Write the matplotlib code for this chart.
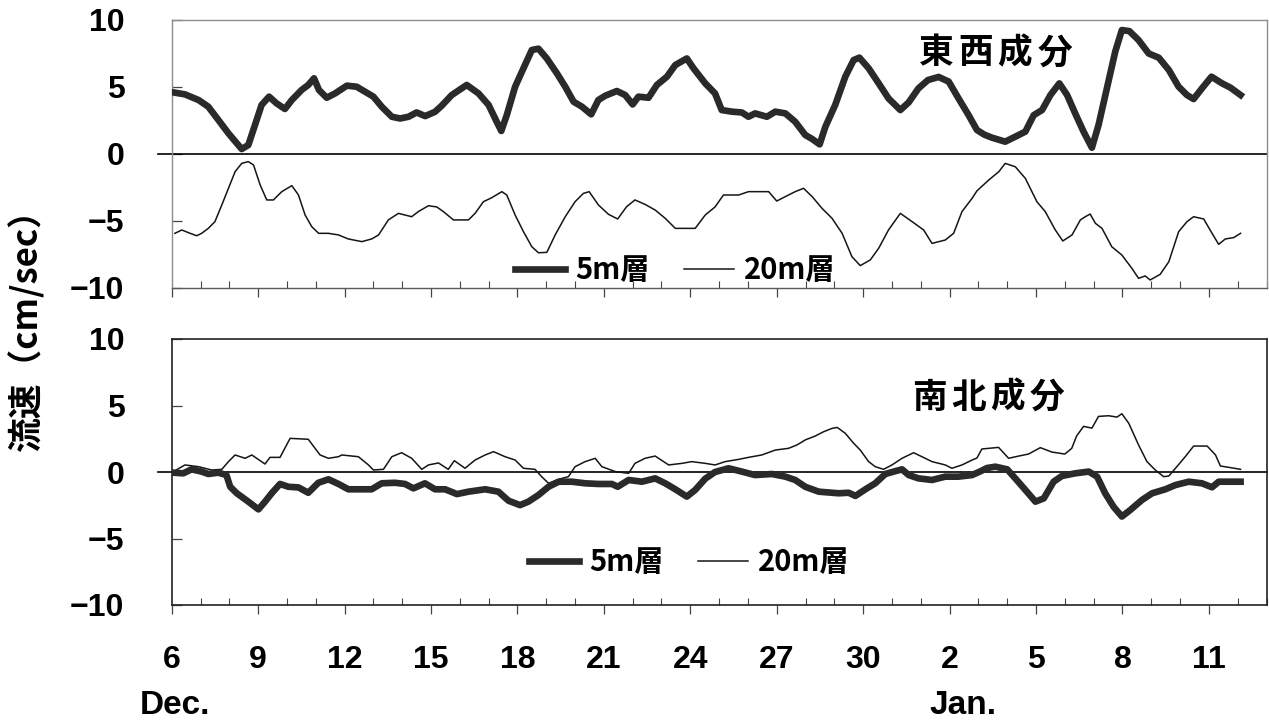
import matplotlib
matplotlib.use("Agg")
import matplotlib.pyplot as plt
from matplotlib.lines import Line2D
from matplotlib.ticker import MultipleLocator
from matplotlib.font_manager import FontProperties

# ---- data: days since Dec 6 and current speed (cm/sec) ----
ew5_day = [0.05, 0.46, 0.93, 1.27, 1.62, 1.97, 2.26, 2.43, 2.66, 2.89, 3.12, 3.38, 3.64, 3.93,
           4.17, 4.51, 4.74, 4.94, 5.11, 5.38, 5.67, 6.08, 6.42, 6.71, 7.0, 7.29, 7.64, 7.93,
           8.22, 8.5, 8.8, 9.14, 9.37, 9.72, 10.24, 10.65, 11.0, 11.28, 11.44, 11.63, 11.92,
           12.21, 12.5, 12.73, 13.02, 13.37, 13.66, 13.95, 14.24, 14.56, 14.81, 15.05, 15.45,
           15.74, 16.0, 16.2, 16.55, 16.84, 17.19, 17.48, 17.88, 18.11, 18.52, 18.86, 19.09,
           19.44, 19.79, 20.02, 20.25, 20.66, 20.95, 21.3, 21.64, 21.99, 22.23, 22.49, 22.69,
           23.03, 23.38, 23.67, 23.87, 24.19, 24.54, 24.88, 25.29, 25.58, 25.92, 26.25, 26.62,
           26.97, 27.31, 27.66, 27.95, 28.2, 28.47, 28.93, 29.28, 29.63, 29.92, 30.21, 30.5,
           30.81, 31.08, 31.36, 31.65, 31.94, 32.17, 32.46, 32.75, 32.98, 33.24, 33.56, 33.91,
           34.26, 34.61, 34.95, 35.24, 35.47, 35.76, 36.09, 36.46, 36.75, 37.1]
ew5_val = [4.6, 4.45, 4.03, 3.53, 2.54, 1.54, 0.8, 0.37, 0.67, 2.16, 3.66, 4.28, 3.78, 3.36,
           4.03, 4.78, 5.15, 5.65, 4.78, 4.2, 4.52, 5.1, 5.02, 4.65, 4.28, 3.53, 2.78, 2.65,
           2.78, 3.1, 2.83, 3.15, 3.6, 4.4, 5.15, 4.52, 3.66, 2.41, 1.72, 2.9, 5.02,
           6.4, 7.76, 7.86, 7.13, 6.02, 5.02, 3.9, 3.53, 2.96, 4.03, 4.35, 4.7,
           4.4, 3.7, 4.28, 4.2, 5.15, 5.77, 6.64, 7.13, 6.4, 5.27, 4.52, 3.28,
           3.16, 3.1, 2.78, 3.03, 2.78, 3.16, 3.03, 2.41, 1.42, 1.12, 0.72, 2.04,
           3.66, 5.77, 7.01, 7.19, 6.4, 5.27, 4.15, 3.28, 3.85, 4.9, 5.52, 5.75,
           5.4, 4.15, 2.9, 1.79, 1.45, 1.22, 0.92, 1.29, 1.67, 2.9, 3.28, 4.4,
           5.27, 4.4, 3.03, 1.67, 0.47, 2.16, 4.9, 7.64, 9.25, 9.17, 8.5, 7.5,
           7.19, 6.27, 5.02, 4.4, 4.1, 4.9, 5.77, 5.27, 4.95, 4.4]

ew20_day = [0.11, 0.35, 0.64, 0.87, 1.04, 1.27, 1.5, 1.74, 1.97, 2.2, 2.43, 2.66, 2.84, 3.07,
            3.3, 3.53, 3.82, 4.17, 4.4, 4.63, 4.86, 5.1, 5.44, 5.79, 6.13, 6.6, 6.94, 7.18,
            7.52, 7.87, 8.33, 8.56, 8.91, 9.2, 9.43, 9.78, 10.3, 10.53, 10.82, 11.11, 11.46,
            11.63, 11.92, 12.21, 12.5, 12.73, 13.02, 13.31, 13.66, 14.0, 14.29, 14.49, 14.81,
            15.16, 15.48, 15.79, 16.08, 16.43, 16.78, 17.13, 17.48, 18.17, 18.52, 18.86, 19.15,
            19.68, 20.02, 20.72, 21.0, 21.3, 21.64, 21.93, 22.23, 22.57, 22.92, 23.27, 23.61,
            23.9, 24.25, 24.54, 24.88, 25.29, 25.7, 26.1, 26.39, 26.85, 27.14, 27.43, 27.78,
            27.95, 28.36, 28.71, 28.93, 29.28, 29.63, 30.03, 30.32, 30.67, 30.93, 31.25, 31.54,
            31.71, 31.88, 32.06, 32.29, 32.63, 32.98, 33.33, 33.56, 33.79, 33.96, 34.31, 34.61,
            34.95, 35.24, 35.47, 35.82, 36.11, 36.34, 36.57, 36.86, 37.1]
ew20_val = [-5.92, -5.67, -5.92, -6.1, -5.92, -5.55, -5.05, -3.8, -2.56, -1.32, -0.7, -0.57, -0.82, -2.31,
            -3.43, -3.43, -2.81, -2.36, -3.06, -4.55, -5.42, -5.92, -5.92, -6.04, -6.34, -6.54, -6.34, -6.04,
            -4.92, -4.43, -4.68, -4.3, -3.86, -3.95, -4.3, -4.92, -4.92, -4.43, -3.56, -3.26, -2.81,
            -3.06, -4.55, -5.8, -6.92, -7.37, -7.34, -6.04, -4.68, -3.56, -2.94, -2.81, -3.8,
            -4.5, -4.85, -3.93, -3.43, -3.76, -4.18, -4.8, -5.55, -5.55, -4.55, -3.95, -3.06,
            -3.06, -2.81, -2.81, -3.51, -3.18, -2.81, -2.56, -3.18, -4.05, -4.8, -5.92, -7.66,
            -8.33, -7.9, -7.03, -5.67, -4.43, -5.05, -5.67, -6.67, -6.42, -5.92, -4.3, -3.31,
            -2.75, -1.94, -1.32, -0.7, -0.95, -1.82, -3.56, -4.3, -5.67, -6.49, -6.04, -4.92,
            -4.68, -4.48, -5.17, -5.55, -6.92, -7.54, -8.54, -9.28, -9.1, -9.4, -8.98, -8.04,
            -5.8, -5.05, -4.68, -4.85, -5.92, -6.74, -6.34, -6.24, -5.92]

ns5_day = [0.06, 0.4, 0.69, 1.04, 1.27, 1.62, 1.9, 2.03, 2.26, 2.66, 3.01, 3.24, 3.47, 3.76,
           4.05, 4.4, 4.74, 5.09, 5.44, 5.79, 6.13, 6.6, 6.94, 7.29, 7.75, 8.1, 8.39, 8.79,
           9.14, 9.49, 9.9, 10.3, 10.88, 11.34, 11.69, 12.09, 12.38, 12.73, 13.08, 13.43,
           13.89, 14.35, 14.81, 15.28, 15.48, 15.86, 16.32, 16.78, 17.13, 17.48, 17.88, 18.17,
           18.52, 18.86, 19.33, 19.79, 20.25, 20.83, 21.3, 21.64, 21.99, 22.46, 23.15, 23.5,
           23.73, 24.08, 24.42, 24.77, 25.06, 25.35, 25.58, 25.92, 26.39, 26.85, 27.31, 27.78,
           28.05, 28.3, 28.59, 29.0, 29.28, 29.63, 29.98, 30.27, 30.61, 30.9, 31.36, 31.83,
           32.12, 32.4, 32.69, 32.98, 33.27, 33.68, 34.03, 34.49, 34.84, 35.3, 35.76, 36.11,
           36.34, 37.1]
ns5_val = [-0.05, -0.1, 0.2, 0.03, -0.15, -0.05, -0.23, -1.11, -1.6, -2.23, -2.81, -2.23, -1.6, -0.9,
           -1.11, -1.16, -1.56, -0.81, -0.55, -0.9, -1.3, -1.3, -1.3, -0.85, -0.81, -0.9, -1.23, -0.85,
           -1.3, -1.3, -1.66, -1.48, -1.3, -1.48, -2.16, -2.49, -2.23, -1.73, -1.11, -0.73,
           -0.73, -0.85, -0.9, -0.9, -1.11, -0.6, -0.73, -0.48, -0.85, -1.3, -1.85, -1.35,
           -0.5, 0.0, 0.28, 0.03, -0.23, -0.15, -0.35, -0.6, -1.11, -1.48, -1.6, -1.56,
           -1.8, -1.3, -0.85, -0.15, 0.03, 0.2, -0.23, -0.48, -0.6, -0.35, -0.35, -0.23,
           0.03, 0.3, 0.4, 0.2, -0.48, -1.35, -2.23, -1.98, -0.73, -0.3, -0.1, 0.03,
           -0.35, -1.6, -2.61, -3.35, -2.86, -2.1, -1.6, -1.3, -0.98, -0.73, -0.85, -1.15,
           -0.73, -0.73]

ns20_day = [0.06, 0.46, 0.93, 1.39, 1.74, 1.97, 2.2, 2.55, 2.78, 3.24, 3.41, 3.76, 4.11, 4.74,
            5.15, 5.44, 5.79, 5.9, 6.48, 6.83, 7.0, 7.35, 7.64, 7.98, 8.33, 8.68, 8.91, 9.26,
            9.6, 9.81, 10.18, 10.53, 10.88, 11.17, 11.57, 11.92, 12.21, 12.61, 12.84, 13.08,
            13.43, 13.77, 14.0, 14.35, 14.7, 14.93, 15.4, 15.86, 16.08, 16.43, 16.78, 17.25,
            17.71, 18.05, 18.52, 18.86, 19.21, 19.68, 20.02, 20.48, 20.95, 21.41, 21.7, 21.99,
            22.34, 22.63, 22.92, 23.1, 23.38, 23.67, 23.9, 24.19, 24.42, 24.71, 25.0, 25.35,
            25.75, 26.04, 26.39, 26.85, 27.08, 27.43, 27.78, 27.95, 28.12, 28.7, 29.05, 29.4,
            29.74, 30.15, 30.55, 31.0, 31.24, 31.41, 31.65, 31.94, 32.17, 32.52, 32.81, 32.98,
            33.22, 33.56, 33.85, 34.14, 34.43, 34.61, 34.84, 35.18, 35.47, 35.94, 36.23, 36.4,
            36.69, 37.1]
ns20_val = [0.03, 0.53, 0.4, 0.15, 0.2, 0.78, 1.28, 1.03, 1.28, 0.6, 1.1, 1.1, 2.53, 2.46,
            1.28, 1.03, 1.15, 1.28, 1.15, 0.53, 0.15, 0.2, 1.15, 1.45, 1.03, 0.2, 0.53, 0.68,
            0.2, 0.85, 0.28, 0.9, 1.28, 1.53, 1.15, 0.9, 0.28, 0.2, -0.35, -0.85,
            -0.55, -0.35, 0.4, 0.78, 1.03, 0.4, 0.03, -0.1, 0.65, 1.03, 1.2, 0.53,
            0.65, 0.78, 0.65, 0.53, 0.78, 0.95, 1.1, 1.28, 1.65, 1.78, 2.03, 2.41,
            2.71, 3.03, 3.28, 3.35, 2.91, 2.16, 1.65, 0.78, 0.4, 0.2, 0.53, 1.03,
            1.45, 1.15, 0.78, 0.53, 0.28, 0.53, 0.9, 1.05, 1.73, 1.85, 1.03, 1.2,
            1.35, 1.83, 1.5, 1.35, 1.78, 2.71, 3.43, 3.3, 4.18, 4.23, 4.13, 4.38,
            3.66, 2.03, 0.78, 0.15, -0.35, -0.3, 0.28, 1.15, 1.95, 1.95, 1.28, 0.45,
            0.35, 0.2]

tick_days = [0, 3, 6, 9, 12, 15, 18, 21, 24, 27, 30, 33, 36]
tick_labels = ["6", "9", "12", "15", "18", "21", "24", "27", "30", "2", "5", "8", "11"]
y_ticks = [-10, -5, 0, 5, 10]
layer_labels = ["5m層", "20m層"]
panel_titles = ["東西成分", "南北成分"]

# numbers and month names use a bold Arial-like face
plt.rcParams["font.family"] = ["Liberation Sans", "DejaVu Sans"]
plt.rcParams["font.weight"] = "bold"
plt.rcParams["axes.unicode_minus"] = True

# ---- figure layout ----
W, H = 1269, 723
fig = plt.figure(figsize=(W / 100, H / 100), dpi=100)
fig.patch.set_facecolor("white")

def fx(px):
    return px / W

def fy(py):
    return 1 - py / H

LEFT, RIGHT = 171.7, 1266.5
ax1 = fig.add_axes([fx(LEFT), fy(288), fx(RIGHT - LEFT), (288 - 20) / H])
ax2 = fig.add_axes([fx(LEFT), fy(605), fx(RIGHT - LEFT), (605 - 339) / H])

cjk = ["Noto Sans CJK JP", "DejaVu Sans"]
THICK_C, THIN_C = "#2a2a2a", "#151515"
THICK_W, THIN_W = 4.8, 1.1
NUM_SIZE = 23

def style_axes(ax, frame_color, frame_w):
    ax.set_xlim(0, 38)
    ax.set_ylim(-10, 10)
    for s in ax.spines.values():
        s.set_color(frame_color)
        s.set_linewidth(frame_w)
    ax.set_yticks(y_ticks)
    ax.set_xticks(tick_days)
    ax.xaxis.set_minor_locator(MultipleLocator(1))
    ax.tick_params(axis="y", direction="in", length=7, width=0.9, color="#444",
                   pad=34, labelsize=NUM_SIZE)
    ax.tick_params(axis="x", which="major", direction="out", length=6.5, width=0.9,
                   color="#444", pad=22, labelsize=NUM_SIZE)
    ax.tick_params(axis="x", which="minor", direction="in", length=5, width=0.8, color="#444")
    # zero line running slightly past the left spine
    ax.plot([-0.48, 38], [0, 0], color="black", lw=1.2, clip_on=False, zorder=2)

style_axes(ax1, "#8c8c8c", 1.0)
ax1.spines["bottom"].set_color("#5a5a5a")
ax1.tick_params(axis="x", labelbottom=False)
style_axes(ax2, "#222222", 1.2)
ax2.set_xticks(tick_days, tick_labels)

# ---- series ----
ax1.plot(ew20_day, ew20_val, color=THIN_C, lw=THIN_W, zorder=3)
ax1.plot(ew5_day, ew5_val, color=THICK_C, lw=THICK_W, solid_joinstyle="round", zorder=4)
ax2.plot(ns20_day, ns20_val, color=THIN_C, lw=THIN_W, zorder=3)
ax2.plot(ns5_day, ns5_val, color=THICK_C, lw=THICK_W, solid_joinstyle="round", zorder=4)

# ---- legends ----
leg_font = FontProperties(family=cjk, weight="bold", size=21)
handles = [Line2D([], [], color=THICK_C, lw=THICK_W), Line2D([], [], color=THIN_C, lw=THIN_W)]
for ax, anchor in ((ax1, (0.46, 0.067)), (ax2, (0.473, 0.162))):
    ax.legend(handles, layer_labels, ncol=2, loc="center", bbox_to_anchor=anchor,
              frameon=False, handlelength=1.7, handletextpad=0.35, columnspacing=1.2,
              prop=leg_font, borderpad=0)

# ---- panel titles (spaced characters) ----
for title, x0, yc in ((panel_titles[0], 936, 53), (panel_titles[1], 929, 397)):
    for i, ch in enumerate(title):
        fig.text(fx(x0 + i * 39.5), fy(yc), ch, ha="center", va="center",
                 family=cjk, weight="bold", fontsize=25)

# ---- axis labels ----
fig.text(fx(26), fy(322), "流速（cm/sec）", rotation=90, ha="center", va="center",
         family=cjk, weight="bold", fontsize=25)
xt = ax2.get_xaxis_transform()
ax2.text(0.1, -0.376, "Dec.", transform=xt, ha="center", va="center",
         weight="bold", fontsize=24)
ax2.text(27.45, -0.376, "Jan.", transform=xt, ha="center", va="center",
         weight="bold", fontsize=24)

fig.savefig("out.png", dpi=100, facecolor="white")
